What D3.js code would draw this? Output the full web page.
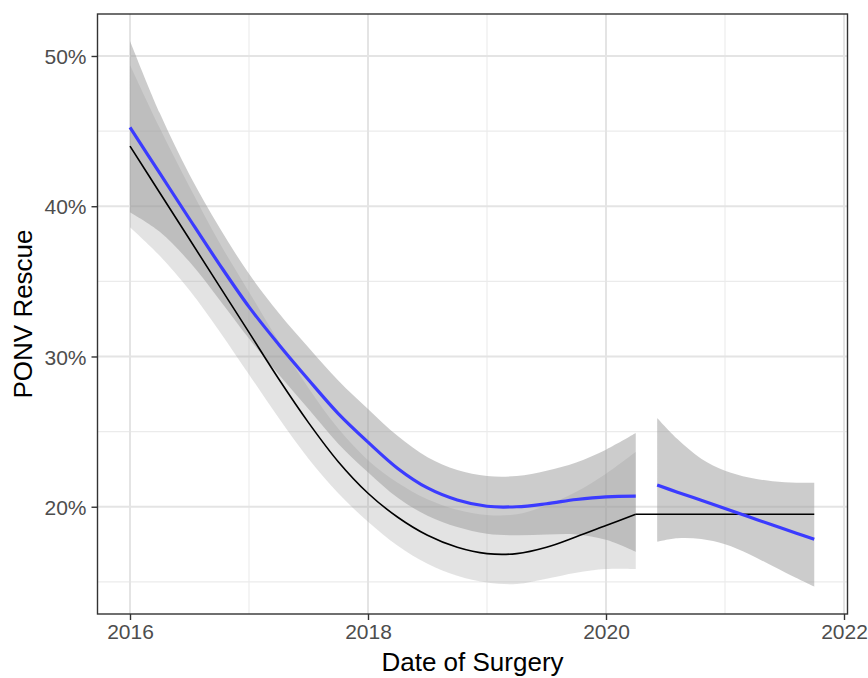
<!DOCTYPE html>
<html>
<head>
<meta charset="utf-8">
<script src="https://cdn.jsdelivr.net/npm/d3@7"></script>
<style>
  html, body { margin: 0; padding: 0; background: #ffffff; }
  svg { display: block; font-family: "Liberation Sans", Arial, sans-serif; }
</style>
</head>
<body>
<svg id="chart" width="868" height="678"></svg>
<script>
// ---- data (years, percent) ----
const years1 = [2016.0, 2016.25, 2016.5, 2016.75, 2017.0, 2017.25, 2017.5, 2017.75, 2018.0,
                2018.25, 2018.5, 2018.75, 2019.0, 2019.25, 2019.5, 2019.75, 2020.0, 2020.25];
const blueFit1 = [45.25, 42.2, 39.15, 36.15, 33.3, 30.8, 28.45, 26.2, 24.3,
                  22.55, 21.25, 20.45, 20.03, 20.0, 20.2, 20.48, 20.66, 20.7];
const blueHi1  = [51.0, 46.2, 42.1, 38.6, 35.5, 32.9, 30.6, 28.4, 26.5,
                  24.7, 23.3, 22.45, 22.05, 22.05, 22.4, 22.95, 23.8, 24.9];
const blueLo1  = [39.6, 38.3, 36.3, 33.8, 31.2, 28.8, 26.5, 24.2, 22.3,
                  20.6, 19.4, 18.65, 18.2, 18.1, 18.15, 18.15, 17.8, 17.0];
const blackFit = [44.0, 40.9, 37.8, 34.7, 31.6, 28.5, 25.6, 23.0, 20.9,
                  19.3, 18.1, 17.3, 16.88, 16.88, 17.3, 18.0, 18.75, 19.5];
const blackHi  = [49.4, 45.2, 41.3, 37.6, 34.3, 31.0, 27.9, 25.2, 23.1,
                  21.6, 20.5, 19.8, 19.45, 19.5, 20.1, 21.0, 22.2, 23.66];
const blackLo  = [38.6, 36.7, 34.4, 31.7, 28.8, 25.9, 23.2, 20.9, 19.0,
                  17.4, 16.2, 15.4, 14.95, 14.85, 15.2, 15.6, 15.85, 15.85];

const years2   = [2020.43, 2020.6, 2020.8, 2021.0, 2021.2, 2021.4, 2021.6, 2021.75];
const blueFit2 = [21.44, 20.97, 20.43, 19.88, 19.33, 18.78, 18.24, 17.83];
const blueHi2  = [25.9, 24.5, 23.2, 22.4, 21.95, 21.7, 21.6, 21.6];
const blueLo2  = [17.67, 17.9, 17.85, 17.5, 16.85, 16.05, 15.25, 14.68];

const blackTailYears = [2020.25, 2021.75];
const blackTailValues = [19.5, 19.5];

const xMajor = [2016, 2018, 2020, 2022];
const xMinor = [2017, 2019, 2021];
const yMajor = [20, 30, 40, 50];
const yMinor = [15, 25, 35, 45];

const xTitle = "Date of Surgery";
const yTitle = "PONV Rescue";

// ---- layout ----
const svg = d3.select("#chart");
const L = 97.5, R = 847.5, T = 14, B = 614;

const x = d3.scaleLinear().domain([2015.7269, 2022.0294]).range([L, R]);
const y = d3.scaleLinear().domain([12.861, 52.794]).range([B, T]);

svg.append("rect").attr("x", L).attr("y", T).attr("width", R - L).attr("height", B - T)
  .attr("fill", "#ffffff");

const grid = svg.append("g");
grid.selectAll(".xmin").data(xMinor).enter().append("line")
  .attr("x1", d => x(d)).attr("x2", d => x(d)).attr("y1", T).attr("y2", B)
  .attr("stroke", "#ebebeb").attr("stroke-width", 1.1);
grid.selectAll(".ymin").data(yMinor).enter().append("line")
  .attr("y1", d => y(d)).attr("y2", d => y(d)).attr("x1", L).attr("x2", R)
  .attr("stroke", "#ebebeb").attr("stroke-width", 1.1);
grid.selectAll(".xmaj").data(xMajor).enter().append("line")
  .attr("x1", d => x(d)).attr("x2", d => x(d)).attr("y1", T).attr("y2", B)
  .attr("stroke", "#e4e4e4").attr("stroke-width", 2);
grid.selectAll(".ymaj").data(yMajor).enter().append("line")
  .attr("y1", d => y(d)).attr("y2", d => y(d)).attr("x1", L).attr("x2", R)
  .attr("stroke", "#e4e4e4").attr("stroke-width", 2);

const plot = svg.append("g");
const curve = d3.curveCatmullRom.alpha(0.5);

function rows(xs, fit, lo, hi) {
  return xs.map((v, i) => ({ x: v, fit: fit ? fit[i] : null, lo: lo ? lo[i] : null, hi: hi ? hi[i] : null }));
}
const seg1Black = rows(years1, blackFit, blackLo, blackHi);
const seg1Blue = rows(years1, blueFit1, blueLo1, blueHi1);
const seg2Blue = rows(years2, blueFit2, blueLo2, blueHi2);
const tail = rows(blackTailYears, blackTailValues);

const area = d3.area().x(d => x(d.x)).y0(d => y(d.lo)).y1(d => y(d.hi)).curve(curve);
const line = d3.line().x(d => x(d.x)).y(d => y(d.fit)).curve(curve);

// black model band (lighter)
plot.append("path").attr("d", area(seg1Black)).attr("fill", "#999999").attr("fill-opacity", 0.28);
// blue model bands
plot.append("path").attr("d", area(seg1Blue)).attr("fill", "#999999").attr("fill-opacity", 0.5);
plot.append("path").attr("d", area(seg2Blue)).attr("fill", "#999999").attr("fill-opacity", 0.5);

// black lines
plot.append("path").attr("d", line(seg1Black)).attr("fill", "none")
  .attr("stroke", "#000000").attr("stroke-width", 1.6);
plot.append("path").attr("d", d3.line().x(d => x(d.x)).y(d => y(d.fit))(tail)).attr("fill", "none")
  .attr("stroke", "#000000").attr("stroke-width", 1.6);

// blue lines
plot.append("path").attr("d", line(seg1Blue)).attr("fill", "none")
  .attr("stroke", "#3b3bff").attr("stroke-width", 3.2);
plot.append("path").attr("d", line(seg2Blue)).attr("fill", "none")
  .attr("stroke", "#3b3bff").attr("stroke-width", 3.2);

// panel border
svg.append("rect").attr("x", L).attr("y", T).attr("width", R - L).attr("height", B - T)
  .attr("fill", "none").attr("stroke", "#333333").attr("stroke-width", 1.4);

// axes
const xAxis = d3.axisBottom(x).tickValues(xMajor).tickFormat(d3.format("d")).tickSize(6).tickPadding(4);
const yAxis = d3.axisLeft(y).tickValues(yMajor).tickFormat(d => d + "%").tickSize(6).tickPadding(5);

const gx = svg.append("g").attr("transform", `translate(0,${B})`).call(xAxis);
const gy = svg.append("g").attr("transform", `translate(${L},0)`).call(yAxis);
[gx, gy].forEach(g => {
  g.select(".domain").remove();
  g.selectAll(".tick line").attr("stroke", "#333333").attr("stroke-width", 1.4);
  g.selectAll(".tick text").attr("fill", "#4d4d4d").attr("font-size", 21)
    .attr("font-family", "Liberation Sans, Arial, sans-serif");
});
gx.selectAll(".tick text").attr("dy", "0.71em");
gy.selectAll(".tick text").attr("dy", "0.36em");

svg.append("text").attr("x", (L + R) / 2).attr("y", 671).attr("text-anchor", "middle")
  .attr("font-size", 26).attr("fill", "#000000").text(xTitle);
svg.append("text").attr("transform", `translate(32,${(T + B) / 2}) rotate(-90)`)
  .attr("text-anchor", "middle").attr("font-size", 26).attr("fill", "#000000").text(yTitle);
</script>
</body>
</html>
